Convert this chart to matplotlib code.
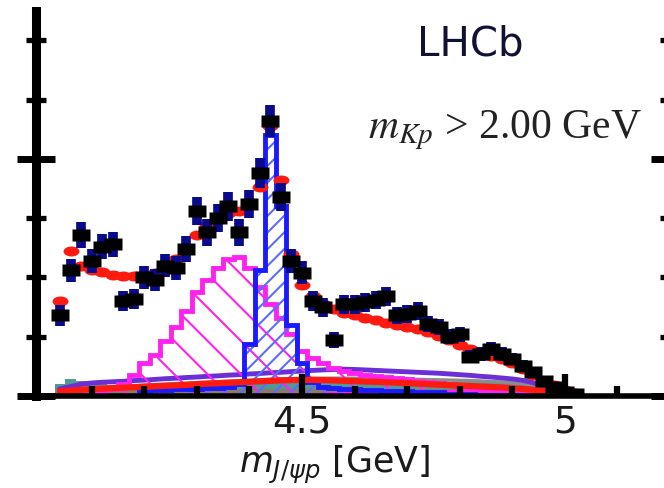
# LHCb-style m(J/psi p) projection, slice m_Kp > 2.00 GeV
# data points + fit + signal / background components

import numpy as np
import matplotlib.pyplot as plt
from matplotlib.path import Path
from matplotlib.transforms import Affine2D

plt.rcParams['font.family'] = 'DejaVu Sans'
plt.rcParams['hatch.linewidth'] = 1.5

# 20 MeV bins in m(J/psi p) [GeV]
bin_centers = [4.04, 4.06, 4.08, 4.10, 4.12, 4.14, 4.16, 4.18, 4.20, 4.22,
               4.24, 4.26, 4.28, 4.30, 4.32, 4.34, 4.36, 4.38, 4.40, 4.42,
               4.44, 4.46, 4.48, 4.50, 4.52, 4.54, 4.56, 4.58, 4.60, 4.62,
               4.64, 4.66, 4.68, 4.70, 4.72, 4.74, 4.76, 4.78, 4.80, 4.82,
               4.84, 4.86, 4.88, 4.90, 4.92, 4.94, 4.96, 4.98, 5.00, 5.02]
bin_edges = [4.03, 4.05, 4.07, 4.09, 4.11, 4.13, 4.15, 4.17, 4.19, 4.21,
             4.23, 4.25, 4.27, 4.29, 4.31, 4.33, 4.35, 4.37, 4.39, 4.41,
             4.43, 4.45, 4.47, 4.49, 4.51, 4.53, 4.55, 4.57, 4.59, 4.61,
             4.63, 4.65, 4.67, 4.69, 4.71, 4.73, 4.75, 4.77, 4.79, 4.81,
             4.83, 4.85, 4.87, 4.89, 4.91, 4.93, 4.95, 4.97, 4.99, 5.01, 5.03]

# events per bin (data) and errors
data_counts = [34, 53, 68, 57, 63, 64, 40, 41, 50, 49,
               55, 54, 62, 78, 69, 75, 80, 69, 81, 94,
               116, 84, 57, 52, 40, 37.5, 23.5, 38.8, 38.8, 39.5,
               40.5, 42, 34, 34.6, 36, 30.4, 29, 25, 26, 16.5,
               17.7, 19.8, 17.7, 15.6, 12.7, 10, 6.3, 3.8, 1.7, 0.8]
data_err = [4.4, 5, 5.5, 5, 5.3, 5.3, 4.2, 4.2, 4.7, 4.7,
            5, 5, 5.3, 6, 5.6, 5.8, 6, 5.6, 6, 6.4,
            6.6, 6, 5, 4.8, 4.2, 4, 3.4, 4, 4, 4,
            4, 4.1, 3.7, 3.7, 3.8, 3.5, 3.4, 3.2, 3.2, 2.7,
            2.8, 2.9, 2.8, 2.6, 2.4, 2.1, 1.7, 1.4, 1, 0.8]

# total fit
fit_total = [40, 61, 55, 53, 52.5, 51, 50.5, 50.5, 51, 52,
             55, 58, 62, 68, 72, 75, 77, 78, 82, 88,
             114, 91, 60, 47, 42, 39, 36.5, 35, 34, 33,
             32, 31, 30, 29, 28.3, 27, 25.5, 23.5, 21.5, 20,
             18.5, 17, 15.5, 14, 11.5, 9, 6.5, 4.5, 2.5, 1.2]

# Pc(4380) (magenta) and Pc(4450) (blue) components
pc4380 = [0, 0, 0, 0.5, 1.5, 3, 5, 9, 14, 17.5,
          23, 29, 36, 44, 49, 54, 58, 58.5, 54, 46,
          39, 33, 26, 19, 16, 14, 12, 10.5, 9.5, 9,
          8.5, 8, 7.5, 7, 6.5, 6, 5.5, 5, 4.5, 4,
          3.5, 3, 2.5, 2, 1.5, 1, 0.5, 0, 0, 0]
pc4450 = [0, 0, 0, 0, 0, 0, 0, 0, 2, 2.5,
          2.5, 3, 3, 3, 3.5, 3.5, 4, 5, 22, 53,
          110, 80, 30, 14, 6, 4, 3.5, 3, 3, 2.5,
          2.5, 2, 2, 2, 1.5, 1.5, 1.5, 1, 1, 1,
          0.5, 0.5, 0.5, 0.5, 0, 0, 0, 0, 0, 0]

# Lambda* / background components near the bottom
lstar_red = [2, 2.3, 2.6, 2.9, 3.1, 3.3, 3.5, 3.7, 3.9, 4.1,
             4.3, 4.5, 4.7, 5, 5.2, 5.4, 5.6, 5.8, 6, 6.2,
             6.4, 6.6, 6.7, 6.8, 6.8, 6.7, 6.6, 6.4, 6.3, 6.1,
             6, 5.8, 5.6, 5.4, 5.2, 5, 4.8, 4.6, 4.4, 4.2,
             4, 3.8, 3.6, 3.3, 3, 2.6, 2, 1.2, 0.5, 0]
lstar_purple = [3, 4, 5, 5.5, 5.8, 6, 6.2, 6.5, 6.7, 7,
                7.3, 7.5, 7.8, 8, 8.3, 8.5, 8.8, 9, 9.3, 9.5,
                9.8, 10, 10.3, 10.5, 10.8, 11, 11.2, 11.3, 11.2, 11,
                10.8, 10.6, 10.4, 10.2, 10, 9.8, 9.6, 9.3, 9, 8.7,
                8.3, 8, 7.6, 7.2, 6.6, 5.6, 4, 2.2, 0.8, 0]
lstar_gray = [3, 3.2, 3.4, 3.6, 3.8, 4, 4.2, 4.4, 4.6, 4.8,
              5, 5.2, 5.4, 5.6, 5.8, 6, 6.2, 6.4, 6.6, 6.8,
              7, 7.1, 7.2, 7.3, 7.4, 7.5, 7.5, 7.5, 7.5, 7.5,
              7.4, 7.3, 7.2, 7.1, 7, 6.9, 6.8, 6.7, 6.6, 6.5,
              6.3, 6.1, 5.9, 5.6, 5.2, 4.6, 3.5, 2, 0.8, 0]
lstar_teal = [5, 7, 6.5, 5.5, 5, 4.5, 4.2, 4.2, 4.3, 4.4,
              4.5, 4.6, 4.7, 4.8, 4.9, 5, 5.1, 5.2, 5.3, 5.4,
              5.5, 5.6, 5.7, 5.8, 5.9, 6, 6, 6, 6, 6,
              6, 6, 6, 6, 6, 6, 6, 6, 6, 5.9,
              5.8, 5.7, 5.6, 5.4, 5.1, 4.6, 3.6, 2.2, 0.8, 0]
lstar_brown = [2, 2.5, 2.8, 3, 3, 3, 3, 3, 3, 3,
               3, 3, 3, 3, 3, 3, 3, 3, 3, 3,
               3, 3, 3, 3, 3, 3, 3, 3, 3, 3,
               3, 3, 3, 3, 3, 3, 3, 3, 3, 3,
               2.8, 2.6, 2.4, 2.2, 2, 1.6, 1.2, 0.6, 0.2, 0]
lstar_pink = [0, 0, 0, 0, 0, 0, 0, 0, 0, 0,
              0, 0, 0, 0, 0, 0, 0, 0, 0, 0,
              0, 0, 0, 0, 0, 0, 1.5, 2, 2.5, 2.5,
              2.5, 2.5, 2.5, 2.5, 2.5, 2.5, 2.5, 2.5, 2.5, 2.5,
              2.5, 2.5, 2.5, 2.5, 2.2, 1.8, 1.2, 0.5, 0, 0]


fig = plt.figure(figsize=(6.64, 4.89), dpi=100)
ax = fig.add_axes([36 / 664, 92 / 489, 634 / 664, 385 / 489])

# background pieces
ax.stairs(lstar_teal, bin_edges, fill=True, color='#4f9a98', zorder=1)
ax.stairs(lstar_brown, bin_edges, fill=True, color='#8a7c6c', zorder=1.2)
ax.stairs(lstar_pink, bin_edges, fill=True, color='#ff22ee', zorder=1.3)
ax.plot(bin_centers, lstar_gray, color='#8c8c8c', lw=2.5, zorder=1.5)
ax.plot(bin_centers, lstar_purple, color='#6a2fd6', lw=3.5, zorder=1.6)
ax.plot(bin_centers, lstar_red, color='#ff1a10', lw=4.5, zorder=3)

# Pc(4380): magenta hatched
ax.stairs(pc4380, bin_edges, fill=True, facecolor='none', edgecolor='#ff22ee',
          hatch='\\', linewidth=0, zorder=2)
ax.stairs(pc4380, bin_edges, color='#ff22ee', lw=3.5, zorder=2.2)

# Pc(4450): blue hatched
ax.stairs(pc4450, bin_edges, fill=True, facecolor='none', edgecolor='#5b6cff',
          hatch='//', linewidth=0, zorder=2.4)
ax.stairs(pc4450, bin_edges, color='#1a1aff', lw=3.5, zorder=2.6)

# total fit: chain of red blobs
blob = Path.unit_circle().transformed(Affine2D().scale(1.6, 1.0))
ax.plot(bin_centers, fit_total, ls='none', marker=blob, ms=11.5,
        color='#ff1a10', mec='none', zorder=4)

# data
ax.errorbar(bin_centers, data_counts, yerr=data_err, fmt='none',
            ecolor='#0a0a8c', elinewidth=7, capsize=0, zorder=5)
box = [(-1.4, -1), (1.4, -1), (1.4, 1), (-1.4, 1), (-1.4, -1)]
ax.plot(bin_centers, data_counts, ls='none', marker=box, ms=12.5,
        color='black', mec='none', zorder=6)

# axes
ax.set_xlim(3.994, 5.2)
ax.set_ylim(0, 162.4)
ax.set_xticks([4.5, 5.0])
ax.set_xticklabels(['4.5', '5'])
ax.set_xticks([4.1, 4.2, 4.3, 4.4, 4.6, 4.7, 4.8, 4.9, 5.1], minor=True)
ax.set_yticks([0, 100])
ax.set_yticks([25, 50, 75, 125, 150], minor=True)

ax.tick_params(axis='x', which='major', direction='in', length=16, width=4.5,
               pad=5.5, labelsize=27, labelcolor='#1a1a1a')
ax.tick_params(axis='x', which='minor', direction='in', length=7, width=4.5)
ax.tick_params(axis='y', which='major', direction='inout', length=27, width=5,
               left=True, right=True, labelleft=False)
ax.tick_params(axis='y', which='minor', direction='inout', length=15, width=3.8,
               left=True, right=True)

ax.spines['top'].set_visible(False)
ax.spines['left'].set_linewidth(6.5)
ax.spines['bottom'].set_linewidth(4)
ax.spines['right'].set_linewidth(4)
for sp in ax.spines.values():
    sp.set_zorder(20)
ax.xaxis.set_zorder(20)
ax.yaxis.set_zorder(20)

ax.set_xlabel(r'$m_{J/\psi p}$ [GeV]', fontsize=25, color='#1a1a1a')
ax.xaxis.set_label_coords(0.4716, -0.1974)
ax.xaxis.label.set_va('baseline')

fig.text(470 / 664, 1 - 55 / 489, 'LHCb', ha='center', va='baseline',
         fontsize=29, color='#111133')
fig.text(505 / 664, 1 - 138 / 489, r'$m_{Kp}$ > 2.00 GeV', ha='center',
         va='baseline', fontsize=30, family='Liberation Serif',
         math_fontfamily='stix', color='#222222')

plt.savefig('out.png', dpi=100)
